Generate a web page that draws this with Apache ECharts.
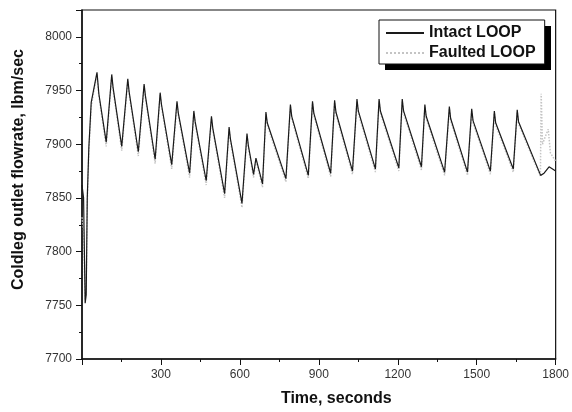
<!DOCTYPE html>
<html>
<head>
<meta charset="utf-8">
<script src="https://cdn.jsdelivr.net/npm/echarts@6/dist/echarts.min.js"></script>
<style>html,body{margin:0;padding:0;background:#fff}#c{width:572px;height:412px}</style>
</head>
<body>
<div id="c"></div>
<script>
// Time (s) and coldleg outlet flowrate (lbm/sec)
const intactTime = [0, 6, 12, 16, 20, 26, 35, 50, 57, 64, 92, 113, 118, 151, 174, 179, 214, 236, 241, 278, 297, 302, 341, 361, 366, 409, 425, 430, 472, 492, 497, 542, 559, 564, 608, 627, 632, 652, 661, 686, 699, 704, 775, 792, 797, 860, 876, 881, 945, 960, 965, 1028, 1045, 1050, 1115, 1129, 1134, 1204, 1217, 1222, 1290, 1303, 1308, 1378, 1396, 1401, 1465, 1481, 1486, 1552, 1567, 1572, 1639, 1654, 1659, 1743, 1756, 1775, 1800];
const intactFlow = [7862, 7850, 7752, 7760, 7850, 7897, 7939, 7958, 7967, 7947, 7902, 7965, 7953, 7898, 7961, 7949, 7893, 7956, 7945, 7886, 7948, 7937, 7881, 7940, 7929, 7873, 7931, 7921, 7866, 7926, 7915, 7854, 7916, 7905, 7845, 7910, 7899, 7872, 7887, 7863, 7930, 7920, 7868, 7937, 7926, 7871, 7940, 7929, 7873, 7941, 7930, 7875, 7942, 7931, 7877, 7942, 7931, 7878, 7942, 7931, 7879, 7937, 7926, 7874, 7935, 7924, 7874, 7933, 7922, 7875, 7931, 7920, 7877, 7932, 7921, 7871, 7873, 7879, 7875];
const faultedTime = [0, 6, 12, 16, 20, 26, 35, 50, 57, 64, 92, 113, 118, 151, 174, 179, 214, 236, 241, 278, 297, 302, 341, 361, 366, 409, 425, 430, 472, 492, 497, 542, 559, 564, 608, 627, 632, 652, 661, 686, 699, 704, 775, 792, 797, 860, 876, 881, 945, 960, 965, 1028, 1045, 1050, 1115, 1129, 1134, 1204, 1217, 1222, 1290, 1303, 1308, 1378, 1396, 1401, 1465, 1481, 1486, 1552, 1567, 1572, 1639, 1654, 1659, 1742, 1745, 1750, 1762, 1772, 1780, 1800];
const faultedFlow = [7832, 7820, 7755, 7765, 7845, 7893, 7935, 7956, 7965, 7945, 7898, 7963, 7951, 7894, 7959, 7947, 7889, 7954, 7943, 7882, 7946, 7935, 7877, 7938, 7927, 7869, 7929, 7919, 7862, 7924, 7913, 7850, 7914, 7903, 7841, 7908, 7897, 7869, 7885, 7860, 7928, 7918, 7865, 7935, 7924, 7868, 7938, 7927, 7870, 7939, 7928, 7872, 7940, 7929, 7874, 7940, 7929, 7875, 7940, 7929, 7876, 7935, 7924, 7871, 7933, 7922, 7871, 7931, 7920, 7872, 7929, 7918, 7874, 7930, 7919, 7870, 7947, 7900, 7908, 7914, 7892, 7884];
const xTicks = {min: 0, max: 1800, step: 300};
const yTicks = {min: 7700, max: 8025, step: 50};

const intactData = intactTime.map((t, i) => [t, intactFlow[i]]);
const faultedData = faultedTime.map((t, i) => [t, faultedFlow[i]]);

const chart = echarts.init(document.getElementById('c'), null, {renderer: 'canvas'});
const font = 'Liberation Sans, Arial, sans-serif';
const plain = v => String(v);
chart.setOption({
  animation: false,
  backgroundColor: '#fff',
  grid: {left: 82, right: 14, top: 10, bottom: 51, show: true, borderColor: '#111', borderWidth: 1.2, backgroundColor: 'transparent'},
  graphic: [{
    type: 'rect', z: 1, silent: true,
    shape: {x: 385, y: 26, width: 166, height: 44},
    style: {fill: '#000'}
  }],
  legend: {
    z: 10,
    orient: 'vertical', left: 379, top: 20,
    data: ['Intact LOOP', 'Faulted LOOP'],
    itemWidth: 38, itemHeight: 14, itemGap: 4,
    padding: [5, 9, 3, 6],
    backgroundColor: '#fff', borderColor: '#111', borderWidth: 1,
    itemStyle: {opacity: 0},
    textStyle: {fontFamily: font, fontWeight: 'bold', fontSize: 16, color: '#111'},
    selectedMode: false
  },
  xAxis: {
    type: 'value', min: xTicks.min, max: xTicks.max, interval: xTicks.step,
    name: 'Time, seconds', nameLocation: 'middle', nameGap: 32,
    nameTextStyle: {fontFamily: font, fontWeight: 'bold', fontSize: 16, color: '#111', padding: [0, 0, 0, 35]},
    axisLine: {show: true, lineStyle: {color: '#111', width: 1.5}},
    axisTick: {show: true, length: 6, lineStyle: {color: '#111'}},
    minorTick: {show: true, splitNumber: 2, length: 3, lineStyle: {color: '#111'}},
    axisLabel: {showMinLabel: false, formatter: plain, fontFamily: font, fontSize: 12, color: '#333', margin: 10},
    splitLine: {show: false}
  },
  yAxis: {
    type: 'value', min: yTicks.min, max: yTicks.max, interval: yTicks.step,
    name: 'Coldleg outlet flowrate, lbm/sec', nameLocation: 'middle', nameGap: 55,
    nameTextStyle: {fontFamily: font, fontWeight: 'bold', fontSize: 16, color: '#111', padding: [0, 0, 0, 30]},
    axisLine: {show: true, lineStyle: {color: '#111', width: 1.5}},
    axisTick: {show: true, length: 6, lineStyle: {color: '#111'}},
    minorTick: {show: true, splitNumber: 2, length: 3, lineStyle: {color: '#111'}},
    axisLabel: {showMaxLabel: false, formatter: plain, fontFamily: font, fontSize: 12, color: '#333', margin: 10},
    splitLine: {show: false}
  },
  series: [
    {name: 'Faulted LOOP', type: 'line', data: faultedData, symbol: 'none',
     lineStyle: {color: '#c4c4c4', width: 1.5, type: 'dotted'}, itemStyle: {color: '#c4c4c4'}},
    {name: 'Intact LOOP', type: 'line', data: intactData, symbol: 'none',
     lineStyle: {color: '#1a1a1a', width: 1.2}, itemStyle: {color: '#1a1a1a'}}
  ]
});
</script>
</body>
</html>
